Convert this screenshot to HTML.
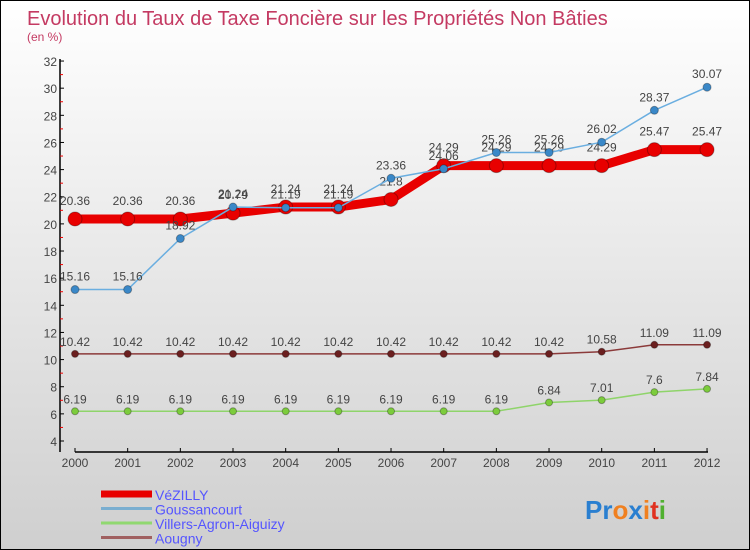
<!DOCTYPE html>
<html><head><meta charset="utf-8"><style>
body{margin:0;}
#wrap{position:relative;width:748px;height:548px;border:1px solid #000;background:linear-gradient(#ffffff,#cfcfcf);font-family:"Liberation Sans",sans-serif;overflow:hidden}
svg{position:absolute;left:0;top:0}
</style></head><body>
<div id="wrap">
<svg id="chart" width="748" height="548"></svg>
</div>
<script>
const years=[2000,2001,2002,2003,2004,2005,2006,2007,2008,2009,2010,2011,2012];
const vezilly=[20.36,20.36,20.36,20.79,21.24,21.24,21.8,24.29,24.29,24.29,24.29,25.47,25.47];
const goussancourt=[15.16,15.16,18.92,21.24,21.19,21.19,23.36,24.06,25.26,25.26,26.02,28.37,30.07];
const villers=[6.19,6.19,6.19,6.19,6.19,6.19,6.19,6.19,6.19,6.84,7.01,7.6,7.84];
const aougny=[10.42,10.42,10.42,10.42,10.42,10.42,10.42,10.42,10.42,10.42,10.58,11.09,11.09];
const yTicks=[4,6,8,10,12,14,16,18,20,22,24,26,28,30,32];
const svg=document.getElementById('chart');
const NS='http://www.w3.org/2000/svg';
const X=i=>74+i*52.67;
const Y=v=>440-(v-4)*13.57;
function mk(t,a,p){const e=document.createElementNS(NS,t);for(const k in a)e.setAttribute(k,a[k]);(p||svg).appendChild(e);return e;}
let t=mk('text',{x:26,y:24,'font-size':20,fill:'#c43a62'});t.textContent='Evolution du Taux de Taxe Foncière sur les Propriétés Non Bâties';


t=mk('text',{x:26,y:40,'font-size':12,fill:'#c43a62'});t.textContent='(en %)';


let ax=mk('line',{x1:59,y1:58,x2:59,y2:451,stroke:'#000','stroke-width':1.5});


ax=mk('line',{x1:74,y1:451,x2:707,y2:451,stroke:'#000','stroke-width':1.5});


yTicks.forEach(v=>{mk('line',{x1:59,y1:Y(v),x2:63,y2:Y(v),stroke:'#000'});
 if(v<32)mk('line',{x1:59,y1:Y(v+1),x2:62,y2:Y(v+1),stroke:'#e00'});
 const l=mk('text',{x:56,y:Y(v)+5,'font-size':12,fill:'#444','text-anchor':'end'});l.textContent=v;
 
 });
years.forEach((yr,i)=>{mk('line',{x1:X(i),y1:447,x2:X(i),y2:451,stroke:'#000'});
 const l=mk('text',{x:X(i),y:466,'font-size':12,fill:'#444','text-anchor':'middle'});l.textContent=yr;
 
 });
function series(vals,color,w,r,dot,name,dy){
 const g=mk('g',{});
 
 
 mk('polyline',{points:vals.map((v,i)=>X(i)+','+Y(v)).join(' '),fill:'none',stroke:color,'stroke-width':w,'stroke-linejoin':'round'},g);
 vals.forEach((v,i)=>{const c=mk('circle',{cx:X(i),cy:Y(v),r:r,fill:dot,stroke:'rgba(0,0,0,0.3)','stroke-width':1},g);
  
  
  const l=mk('text',{x:X(i),y:Y(v)-dy,'font-size':12,fill:'#444','text-anchor':'middle'},g);l.textContent=v;
  
  });
}
series(aougny,'#8b3a3a',1.5,3.5,'#6b1f1f','aougny',8);
series(villers,'#8fd46a',1.5,3.5,'#7ccc3c','villers',8);
series(vezilly,'#e80000',9,7,'#e80000','vezilly',14);
series(goussancourt,'#6aaee0',1.5,4,'#3a88c8','goussancourt',9);
const leg=[['VéZILLY','#e80000',7],['Goussancourt','#7aaed0',3],['Villers-Agron-Aiguizy','#90d870',3],['Aougny','#a06060',3]];
leg.forEach((d,i)=>{const y=493+i*14.5;
 const g=mk('g',{});
 
 
 mk('rect',{x:100,y:y-d[2]/2,width:51,height:d[2],fill:d[1]},g);
 const l=mk('text',{x:154,y:y+6,'font-size':14,fill:'#5555ff'},g);l.textContent=d[0];});
const logo=mk('text',{x:584,y:518,'font-size':26,'font-weight':'bold'});


[['Pr','#2a7fd0'],['o','#f08020'],['x','#2a7fd0'],['i','#f08020'],['t','#e03020'],['i','#50b030']].forEach(p=>{const s=mk('tspan',{fill:p[1]},logo);s.textContent=p[0];});
</script>
</body></html>
